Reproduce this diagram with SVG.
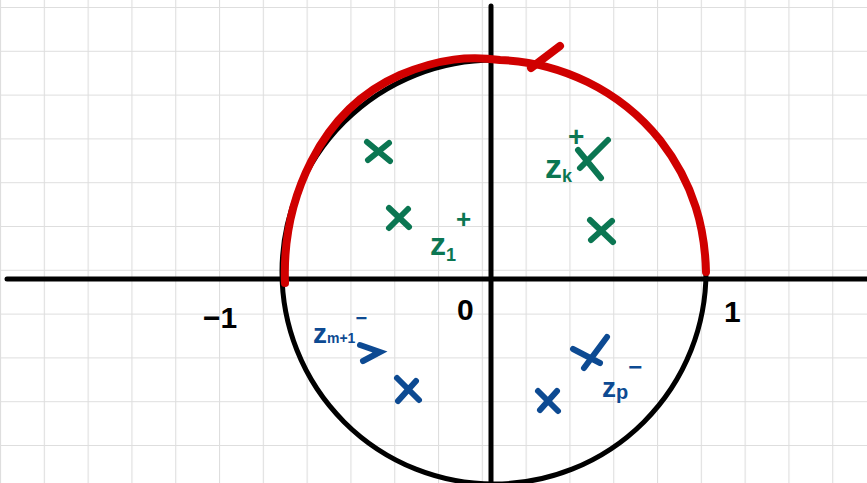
<svg xmlns="http://www.w3.org/2000/svg" width="867" height="483" viewBox="0 0 867 483">
<defs>
<pattern id="grid" x="0" y="7" width="43.8" height="43.8" patternUnits="userSpaceOnUse">
<path d="M0.5,0 V43.8 M0,0.5 H43.8" fill="none" stroke="#dedede" stroke-width="1.2"/>
</pattern>
</defs>
<style>
.ax{stroke:#000;stroke-width:5;stroke-linecap:round;fill:none}
.g{stroke:#0b7652;stroke-width:6;stroke-linecap:round;fill:none}
.b{stroke:#0d4a92;stroke-width:6;stroke-linecap:round;fill:none}
.red{stroke:#d00000;stroke-width:8;stroke-linecap:round;stroke-linejoin:round;fill:none}
.t{font-family:"Liberation Sans",Arial,sans-serif;font-weight:bold}
.tk{fill:#000;font-size:30px}
.tg{fill:#0b7652}
.tb{fill:#0d4a92}
</style>
<rect width="867" height="483" fill="#fff"/>
<rect width="867" height="483" fill="url(#grid)"/>
<g id="axes">
<line class="ax" x1="7" y1="279" x2="867" y2="279"/>
<line class="ax" x1="491" y1="6" x2="491" y2="483"/>
</g>
<g id="unit-circle">
<circle class="ax" cx="494" cy="272" r="212"/>
</g>
<g id="contour">
<path class="red" d="M285,283 C282,200 320,110 400,75 C440,58 470,56 500,60 C560,62 620,90 660,140 C695,185 705,230 706,272"/>
<path class="red" d="M560,46 L531,68" stroke-width="6"/>
</g>
<g id="labels-axes">
<text class="t tk" x="203" y="328">−1</text>
<text class="t tk" x="457" y="320">0</text>
<text class="t tk" x="724" y="322">1</text>
</g>
<g id="poles-upper">
<path class="g" d="M367,142 L390,161 M389,143 L368,160"/>
<path class="g" d="M389,208 L409,227 M408,209 L389,228"/>
<path class="g" d="M578,150 L601,178 M608,140 L580,168"/>
<path class="g" d="M590,220 L613,242 M612,221 L591,240"/>
<text class="t tg" x="430" y="255" font-size="32">z<tspan dy="6" font-size="18">1</tspan><tspan dy="-33" font-size="26">+</tspan></text>
<text class="t tg" x="545" y="178" font-size="34">z<tspan dy="4" font-size="18">k</tspan><tspan dx="-4" dy="-36" font-size="28">+</tspan></text>
</g>
<g id="poles-lower">
<path class="b" d="M397,378 L419,400 M416,381 L398,401"/>
<path class="b" d="M538,391 L558,411 M557,391 L540,410"/>
<path class="b" d="M573,349 L600,363 M607,337 L584,368"/>
<path class="b" d="M360,345 L380,352 L363,361"/>
<text class="t tb" x="313" y="343" font-size="28">z<tspan font-size="14" dy="0">m+1</tspan><tspan dy="-18" font-size="20">−</tspan></text>
<text class="t tb" x="602" y="397" font-size="28">z<tspan font-size="20" dy="2">p</tspan><tspan dy="-24" font-size="24">−</tspan></text>
</g>
</svg>
